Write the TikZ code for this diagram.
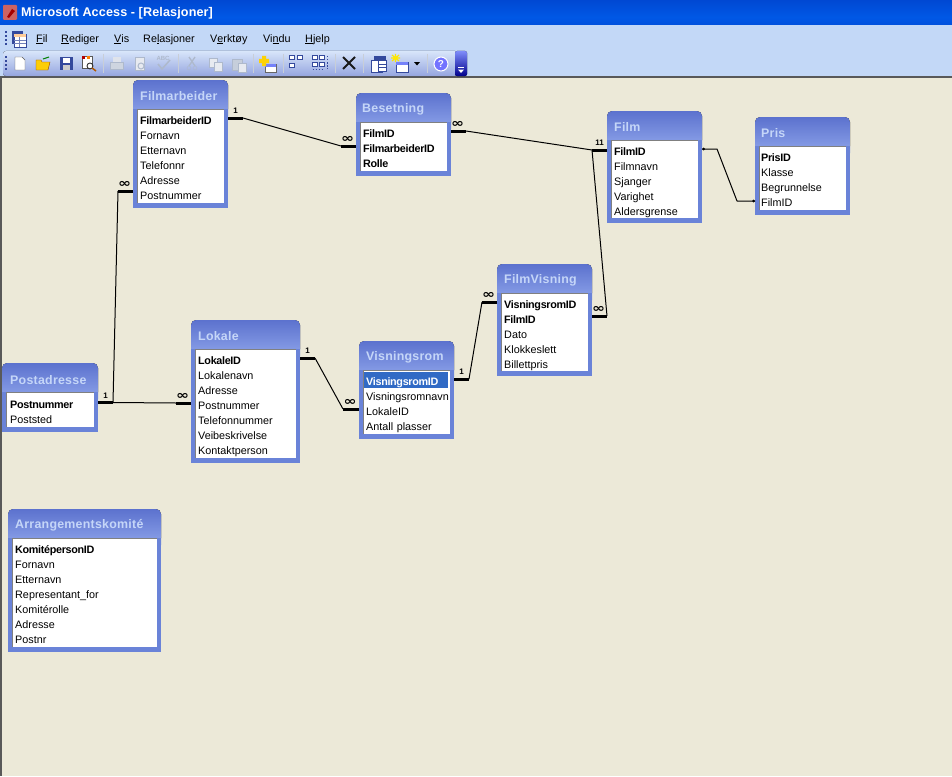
\documentclass[tikz,border=0pt]{standalone}
\usepackage{graphicx}
\usepackage{fontspec}
\setmainfont{Liberation Sans}
\newfontfamily\titlefont[LetterSpace=2]{Liberation Sans}
\newfontfamily\windowfont[LetterSpace=1]{Liberation Sans}
\newfontfamily\keyfont[LetterSpace=-3]{Liberation Sans}
\newfontfamily\signfont{DejaVu Sans}
\usetikzlibrary{arrows, positioning}

\definecolor{desk}{HTML}{ECE9D8}
\definecolor{strip}{HTML}{C3D8F7}
\definecolor{frame}{HTML}{6A83D8}
\definecolor{frametop}{HTML}{5C72CE}
\definecolor{framelow}{HTML}{8AA0E8}
\definecolor{titletext}{HTML}{C5D6F8}
\definecolor{selected}{HTML}{316AC5}
\definecolor{icon}{HTML}{34499C}
\definecolor{faded}{HTML}{AEB9CC}
\definecolor{xpa}{HTML}{003CAE}
\definecolor{xpb}{HTML}{0046D0}
\definecolor{xpc}{HTML}{0058E6}
\definecolor{xpd}{HTML}{3A8CF5}

\pgfdeclareverticalshading{xptitle}{100bp}{
  color(0bp)=(xpa); color(5bp)=(xpb);
  color(40bp)=(xpc); color(80bp)=(xpb); color(90bp)=(xpc); color(100bp)=(xpd)}

\newcommand{\manysign}{\scalebox{1.3}[1]{∞}}

\tikzset{
  field/.style={inner sep=0pt, text width=100pt, align=left, text height=8pt, text depth=0pt, font=\fontsize{10.8}{12}\selectfont},
  keyfield/.style={field, font=\fontsize{10.8}{12}\keyfont\bfseries\selectfont},
  tabletitle/.style={anchor=west, inner sep=0pt, text=titletext, font=\fontsize{12.4}{14}\titlefont\bfseries\selectfont},
  menuitem/.style={anchor=west, inner sep=0pt, font=\fontsize{10.8}{12}\selectfont, text height=8pt, text depth=0pt},
  card/.style={inner sep=0pt, font=\fontsize{8}{9}\bfseries\selectfont},
  many/.style={inner sep=0pt, xshift=-1pt, font=\fontsize{12}{12}\signfont\bfseries\selectfont},
  relthin/.style={line width=1pt, line join=round},
  relthick/.style={line width=3pt},
  sep/.style={line width=0.8pt, color=white!60!strip!70!gray}
}

% frame with rounded top corners, white list area, named rectangle on top
\newcommand{\tablebox}[5]{
  \fill[frame] (#2,#3+20) rectangle (#4,#5);
  \fill[top color=frametop, bottom color=framelow, rounded corners=5pt] (#2,#3+34) -- (#2,#3) -- (#4,#3) -- (#4,#3+34) -- cycle;
  \fill[frame] (#2,#3+29) rectangle (#2+4,#3+36) (#4-4,#3+29) rectangle (#4,#3+36);
  \fill[white] (#2+4,#3+29) rectangle (#4-4,#5-5);
  \draw[gray, line width=0.8pt] (#2+4,#5-5) -- (#2+4,#3+29) -- (#4-4,#3+29);
  \node[minimum width=#4pt-#2pt, minimum height=#5pt-#3pt, inner sep=0pt] (#1) at ({(#2+#4)/2},{(#3+#5)/2}) {};
}

\begin{document}
\begin{tikzpicture}[x=1pt,y=-1pt,node distance=15pt]
    \useasboundingbox (0,0) rectangle (952,776);
    \fill[desk] (0,0) rectangle (952,776);
    \fill[gray!70!black] (0,77) rectangle (1.5,776);

    % window bars
    \fill[strip] (0,24) rectangle (952,76);
    \fill[gray!70!black] (0,75.5) rectangle (952,77.5);
    \shade[shading=xptitle] (0,0) rectangle (952,25);
    \fill[top color=white!35!strip, bottom color=strip!85!blue!90!black, rounded corners=3pt] (3,51) rectangle (458,76);
    \fill[top color=blue!35!strip, bottom color=blue!55!black, rounded corners=2pt] (455,51) rectangle (467,76);
    \fill[white] (458,67) rectangle (464,68);
    \fill[white] (458,69.5) -- (464,69.5) -- (461,73) -- cycle;

    \node[anchor=west, inner sep=0pt, text=white, font=\fontsize{12.6}{14}\windowfont\bfseries\selectfont] (appname) at (21,13) {Microsoft Access - [Relasjoner]};
    \fill[red!35!pink!80!black, rounded corners=1pt] (3,5) rectangle (17,20);
    \fill[red!65!black] (7,17) -- (12,9) -- (15,11) -- (9,18) -- cycle;

    % menu
    \node[menuitem] (menufil) at (36,38) {\underline{F}il};
    \node[menuitem] (menurediger) at (61,38) {\underline{R}ediger};
    \node[menuitem] (menuvis) at (114,38) {\underline{V}is};
    \node[menuitem] (menurel) at (143,38) {Re\underline{l}asjoner};
    \node[menuitem] (menuverk) at (210,38) {V\underline{e}rktøy};
    \node[menuitem] (menuvindu) at (263,38) {Vi\underline{n}du};
    \node[menuitem] (menuhjelp) at (305,38) {\underline{H}jelp};

    % toolbar grips and icons
    \draw[icon, line width=1.5pt, dash pattern=on 2pt off 2pt] (6,31) -- (6,45);
    \draw[icon, line width=1.5pt, dash pattern=on 2pt off 2pt] (6,56) -- (6,71);
    \fill[icon] (12,31) rectangle (23,44);
    \fill[white, draw=icon] (14,34) rectangle (26,47);
    \fill[orange!40!white] (14,34) rectangle (26,37);
    \draw[icon!70!white] (14,40) -- (26,40) (14,43.5) -- (26,43.5) (19,37) -- (19,47);

    \draw[fill=white, draw=gray!70!black] (15,57) -- (22,57) -- (25,60) -- (25,70) -- (15,70) -- cycle;
    \draw[fill=yellow!65!orange, draw=orange!60!black] (36,60) -- (41,60) -- (42,62) -- (50,62) -- (48,70) -- (36,70) -- cycle;
    \draw[green!50!black, line width=1pt] (43,59) -- (49,57);
    \fill[icon] (60,57) rectangle (73,70);
    \fill[white] (63,58) rectangle (70,63);
    \fill[gray!40!white] (63,65) rectangle (70,70);
    \draw[fill=white, draw=gray!70!black] (82,56) rectangle (92,68);
    \fill[red!70!black] (82,56) rectangle (85,59);
    \fill[orange] (87,56) rectangle (90,59);
    \draw[gray!40!black, line width=0.9pt] (90,66) circle (3pt);
    \draw[orange!70!black, line width=1.5pt] (92,68) -- (96,71);

    \draw[sep] (103.5,54) -- (103.5,73);
    \draw[fill=faded!60!white, draw=faded] (110,62) rectangle (123,69);
    \fill[faded!40!white] (113,57) rectangle (121,62);
    \draw[fill=white!70!faded, draw=faded] (135,57) rectangle (144,70);
    \draw[faded, line width=1pt] (141,66) circle (3pt);
    \node[inner sep=0pt, text=faded, font=\fontsize{6}{6}\bfseries\selectfont] (abc) at (163,58) {ABC};
    \draw[faded, line width=1.5pt] (158,64) -- (162,69) -- (170,60);
    \draw[sep] (178.5,54) -- (178.5,73);
    \draw[faded, line width=1.3pt] (189,57) -- (195,66) (195,57) -- (189,66);
    \draw[faded] (189,68) circle (2pt) (195,68) circle (2pt);
    \draw[fill=white!70!faded, draw=faded] (209,58) rectangle (217,67);
    \draw[fill=white!70!faded, draw=faded] (214,62) rectangle (222,71);
    \draw[fill=faded!70!white, draw=faded] (232,59) rectangle (242,70);
    \draw[fill=white!70!faded, draw=faded] (238,63) rectangle (246,72);
    \draw[sep] (253.5,54) -- (253.5,73);

    \draw[fill=white, draw=gray!80!black] (265,64) rectangle (276,72);
    \fill[strip!60!blue] (265,64) rectangle (276,66.5);
    \fill[yellow!70!orange] (262,56) rectangle (266,66) (259,59) rectangle (269,63);
    \draw[sep] (283.5,54) -- (283.5,73);
    \draw[icon, line width=1pt, fill=white] (289,56) rectangle (294,60) (297,56) rectangle (302,60) (289,63) rectangle (294,67);
    \draw[icon, line width=1pt, fill=white] (312.5,56) rectangle (317,60) (319,56) rectangle (324,60) (312.5,62) rectangle (317,66) (319,62) rectangle (324,66);
    \draw[icon, line width=1pt, dash pattern=on 1.5pt off 1.5pt] (312.5,69) -- (324,69) (327,56) -- (327,69);
    \draw[sep] (335.5,54) -- (335.5,73);
    \draw[gray!20!black, line width=1.8pt] (343,57) -- (355,69) (355,57) -- (343,69);
    \draw[sep] (363.5,54) -- (363.5,73);
    \fill[icon] (374,56) rectangle (386,68);
    \draw[fill=white, draw=icon] (371,60) rectangle (382,72);
    \fill[white, draw=icon] (378,60) rectangle (386,71);
    \draw[icon] (378,64) -- (386,64) (378,67.5) -- (386,67.5);
    \draw[fill=white, draw=icon] (396,62) rectangle (408,72);
    \fill[strip!60!blue] (396,62) rectangle (408,65);
    \draw[yellow!90!orange, line width=1.2pt] (391,58) -- (400,58) (395.5,54) -- (395.5,62) (392,55) -- (399,61) (399,55) -- (392,61);
    \fill[black] (414,62) -- (420,62) -- (417,65.5) -- cycle;
    \draw[sep] (427.5,54) -- (427.5,73);
    \draw[fill=blue!55!white, draw=white, line width=1pt] (441,64) circle (7pt);
    \node[inner sep=0pt, text=white, font=\fontsize{10}{10}\bfseries\selectfont] (helpmark) at (441,64) {?};

    % tables
    \tablebox{Filmarbeider}{133}{80}{228}{208}
    \node[tabletitle] (Filmarbeider_t) at (140,96) {Filmarbeider};
    \node[keyfield, anchor=west] (fa1) at (140,120) {FilmarbeiderID};
    \node[field] (fa2) [below of=fa1] {Fornavn};
    \node[field] (fa3) [below of=fa2] {Etternavn};
    \node[field] (fa4) [below of=fa3] {Telefonnr};
    \node[field] (fa5) [below of=fa4] {Adresse};
    \node[field] (fa6) [below of=fa5] {Postnummer};

    \tablebox{Besetning}{356}{93}{451}{176}
    \node[tabletitle] (Besetning_t) at (362,109) {Besetning};
    \node[keyfield, anchor=west] (be1) at (363,133) {FilmID};
    \node[keyfield] (be2) [below of=be1] {FilmarbeiderID};
    \node[keyfield] (be3) [below of=be2] {Rolle};

    \tablebox{Film}{607}{111}{702}{223}
    \node[tabletitle] (Film_t) at (614,127) {Film};
    \node[keyfield, anchor=west] (fi1) at (614,151) {FilmID};
    \node[field] (fi2) [below of=fi1] {Filmnavn};
    \node[field] (fi3) [below of=fi2] {Sjanger};
    \node[field] (fi4) [below of=fi3] {Varighet};
    \node[field] (fi5) [below of=fi4] {Aldersgrense};

    \tablebox{Pris}{755}{117}{850}{215}
    \node[tabletitle] (Pris_t) at (761,133) {Pris};
    \node[keyfield, anchor=west] (pr1) at (761,157) {PrisID};
    \node[field] (pr2) [below of=pr1] {Klasse};
    \node[field] (pr3) [below of=pr2] {Begrunnelse};
    \node[field] (pr4) [below of=pr3] {FilmID};

    \tablebox{FilmVisning}{497}{264}{592}{376}
    \node[tabletitle] (FilmVisning_t) at (504,280) {FilmVisning};
    \node[keyfield, anchor=west] (fv1) at (504,304) {VisningsromID};
    \node[keyfield] (fv2) [below of=fv1] {FilmID};
    \node[field] (fv3) [below of=fv2] {Dato};
    \node[field] (fv4) [below of=fv3] {Klokkeslett};
    \node[field] (fv5) [below of=fv4] {Billettpris};

    \tablebox{Visningsrom}{359}{341}{454}{439}
    \fill[selected] (364,372) rectangle (448,388);
    \node[tabletitle] (Visningsrom_t) at (366,357) {Visningsrom};
    \node[keyfield, anchor=west, text=white] (vr1) at (366,381) {VisningsromID};
    \node[field] (vr2) [below of=vr1] {Visningsromnavn};
    \node[field] (vr3) [below of=vr2] {LokaleID};
    \node[field] (vr4) [below of=vr3] {Antall plasser};

    \tablebox{Lokale}{191}{320}{300}{463}
    \node[tabletitle] (Lokale_t) at (198,336) {Lokale};
    \node[keyfield, anchor=west] (lo1) at (198,360) {LokaleID};
    \node[field] (lo2) [below of=lo1] {Lokalenavn};
    \node[field] (lo3) [below of=lo2] {Adresse};
    \node[field] (lo4) [below of=lo3] {Postnummer};
    \node[field] (lo5) [below of=lo4] {Telefonnummer};
    \node[field] (lo6) [below of=lo5] {Veibeskrivelse};
    \node[field] (lo7) [below of=lo6] {Kontaktperson};

    \tablebox{Postadresse}{2}{363}{98}{432}
    \node[tabletitle] (Postadresse_t) at (10,380) {Postadresse};
    \node[keyfield, anchor=west] (po1) at (10,404) {Postnummer};
    \node[field] (po2) [below of=po1] {Poststed};

    \tablebox{Arrangementskomite}{8}{509}{161}{652}
    \node[tabletitle] (Arrangementskomite_t) at (15,525) {Arrangementskomité};
    \node[keyfield, anchor=west] (ar1) at (15,549) {KomitépersonID};
    \node[field] (ar2) [below of=ar1] {Fornavn};
    \node[field] (ar3) [below of=ar2] {Etternavn};
    \node[field] (ar4) [below of=ar3] {Representant\_for};
    \node[field] (ar5) [below of=ar4] {Komitérolle};
    \node[field] (ar6) [below of=ar5] {Adresse};
    \node[field] (ar7) [below of=ar6] {Postnr};

    % relation ends on the table edges and their knees
    \coordinate (faOut) at (228,118);   \coordinate (faKnee) at (243,118);
    \coordinate (beIn) at (356,146);    \coordinate (beKnee) at (341,146);
    \coordinate (beOut) at (451,131);   \coordinate (beOutKnee) at (466,131);
    \coordinate (fiIn) at (607,150);    \coordinate (fiKnee) at (592,150);
    \coordinate (fvOut) at (592,316);   \coordinate (fvKnee) at (607,316);
    \coordinate (fiOut) at (702,149);   \coordinate (fiOutKnee) at (717,149);
    \coordinate (prIn) at (755,201);    \coordinate (prKnee) at (737,201);
    \coordinate (poOut) at (98,402.5);  \coordinate (poKnee) at (113,402.5);
    \coordinate (faIn) at (133,191);    \coordinate (faInKnee) at (118,191);
    \coordinate (loIn) at (191,403);    \coordinate (loKnee) at (176,403);
    \coordinate (loOut) at (300,358);   \coordinate (loOutKnee) at (315,358);
    \coordinate (vrIn) at (359,409);    \coordinate (vrKnee) at (343,409);
    \coordinate (vrOut) at (454,379);   \coordinate (vrOutKnee) at (469,379);
    \coordinate (fvIn) at (497,302);    \coordinate (fvInKnee) at (482,302);

    \draw[relthick] (faOut) -- (faKnee) node[card, midway, yshift=7pt] (c1) {1};
    \draw[relthick] (beIn) -- (beKnee) node[many, midway, yshift=7pt] (m1) {\manysign};
    \draw[relthin] (faKnee) -- (beKnee);

    \draw[relthick] (beOut) -- (beOutKnee) node[many, midway, yshift=7pt] (m2) {\manysign};
    \draw[relthick] (fiIn) -- (fiKnee) node[card, midway, yshift=7.5pt] (c2) {11};
    \draw[relthin] (beOutKnee) -- (fiKnee);

    \draw[relthick] (fvOut) -- (fvKnee) node[many, midway, yshift=7pt] (m3) {\manysign};
    \draw[relthin] (fiKnee) -- (fvKnee);

    \draw[relthin] (fiOut) -- (fiOutKnee) -- (prKnee) -- (prIn);
    \fill (fiOut) ++(1.5,0) circle (1.5pt);
    \fill (prIn) ++(-1.5,0) circle (1.5pt);

    \draw[relthick] (poOut) -- (poKnee) node[card, midway, yshift=7pt] (c3) {1};
    \draw[relthick] (faIn) -- (faInKnee) node[many, midway, yshift=7pt] (m4) {\manysign};
    \draw[relthin] (poKnee) -- (faInKnee);
    \draw[relthick] (loIn) -- (loKnee) node[many, midway, yshift=7pt] (m5) {\manysign};
    \draw[relthin] (poKnee) -- (loKnee);

    \draw[relthick] (loOut) -- (loOutKnee) node[card, midway, yshift=7pt] (c4) {1};
    \draw[relthick] (vrIn) -- (vrKnee) node[many, midway, yshift=7pt] (m6) {\manysign};
    \draw[relthin] (loOutKnee) -- (vrKnee);

    \draw[relthick] (vrOut) -- (vrOutKnee) node[card, midway, yshift=7pt] (c5) {1};
    \draw[relthick] (fvIn) -- (fvInKnee) node[many, midway, yshift=7pt] (m7) {\manysign};
    \draw[relthin] (vrOutKnee) -- (fvInKnee);
\end{tikzpicture}
\end{document}
